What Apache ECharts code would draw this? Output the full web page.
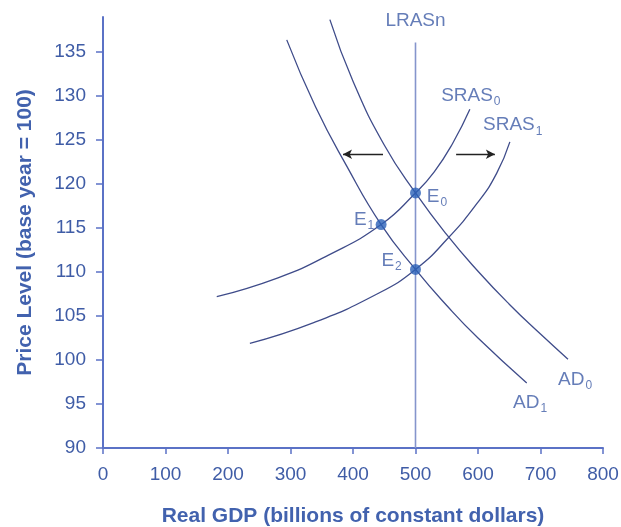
<!DOCTYPE html>
<html><head><meta charset="utf-8">
<script src="https://cdn.jsdelivr.net/npm/echarts@6/dist/echarts.min.js"></script>
<style>html,body{margin:0;padding:0;background:#fff}#c{width:621px;height:527px}</style>
</head><body><div id="c"></div>
<script>
// ---- data ----
const xTickValues = [0, 100, 200, 300, 400, 500, 600, 700, 800];
const yTickValues = [90, 95, 100, 105, 110, 115, 120, 125, 130, 135];
const AD0 = [[363,138.7],[400,131.7],[450,124.45],[500,119.0],[550,114.25],[600,110.1],[650,106.35],[700,102.95],[744,100.1]];
const AD1 = [[294,136.4],[340,128.8],[390,122.05],[445,115.4],[500,110.3],[550,106.2],[600,102.5],[678,97.4]];
const SRAS0 = [[182,107.2],[280,109.35],[360,111.9],[445,115.4],[500,119.0],[530,121.4],[560,124.7],[587,128.5]];
const SRAS1 = [[235,101.9],[335,104.2],[440,107.56],[500,110.3],[550,113.7],[600,117.95],[630,121.25],[651,124.8]];
const LRAS = [[500,90],[500,136.1]];
const equilibria = [[500,119],[445,115.4],[500,110.3]];
const shiftLeft = [[448,123.4],[384,123.4]];
const shiftRight = [[565,123.4],[627,123.4]];
const curveLabels = [
  {name:'LRASn', sub:'', at:[500,138.6], align:'center'},
  {name:'SRAS', sub:'0', at:[541,130.1], align:'left'},
  {name:'SRAS', sub:'1', at:[608,126.7], align:'left'},
  {name:'E', sub:'0', at:[518,118.6], align:'left'},
  {name:'E', sub:'1', at:[434,116.0], align:'right'},
  {name:'E', sub:'2', at:[478,111.3], align:'right'},
  {name:'AD', sub:'0', at:[728,97.8], align:'left'},
  {name:'AD', sub:'1', at:[656,95.1], align:'left'}
];

// ---- chart ----
const axisBlue = '#5b72c6', textBlue = '#3f5ca6', curve = '#3f4c8a';
const FONT = 'Liberation Sans, Arial, sans-serif';
const chart = echarts.init(document.getElementById('c'), null, {renderer:'canvas'});
const curveSeries = (d) => ({type:'line', data:d, smooth:0.5, showSymbol:false, symbol:'none',
  lineStyle:{color:curve, width:1.3}, silent:true, z:3});

chart.setOption({
  animation:false,
  backgroundColor:'#fff',
  grid:{left:103, right:18, top:17, bottom:79, containLabel:false, outerBoundsMode:'none'},
  xAxis:{type:'value', min:0, max:800, interval:100,
    axisLine:{lineStyle:{color:axisBlue, width:2}},
    axisTick:{show:true, length:6, lineStyle:{color:axisBlue, width:1.5}, customValues:xTickValues},
    axisLabel:{color:textBlue, fontSize:19, fontFamily:FONT, margin:17, customValues:xTickValues},
    splitLine:{show:false},
    name:'Real GDP (billions of constant dollars)', nameLocation:'middle', nameGap:58,
    nameTextStyle:{color:'#4262ae', fontSize:21, fontWeight:'bold', fontFamily:FONT}
  },
  yAxis:{type:'value', min:90, max:139, interval:5,
    axisLine:{show:true, lineStyle:{color:axisBlue, width:2}},
    axisTick:{show:true, length:7, lineStyle:{color:axisBlue, width:1.5}, customValues:yTickValues},
    axisLabel:{color:textBlue, fontSize:19, fontFamily:FONT, margin:17, customValues:yTickValues},
    splitLine:{show:false},
    name:'Price Level (base year = 100)', nameLocation:'middle', nameGap:67,
    nameTextStyle:{color:'#4262ae', fontSize:21, fontWeight:'bold', fontFamily:FONT}
  },
  series:[
    {type:'line', data:LRAS, showSymbol:false, symbol:'none', lineStyle:{color:'#8595cc', width:1.6}, z:2, silent:true},
    curveSeries(AD0), curveSeries(AD1), curveSeries(SRAS0), curveSeries(SRAS1),
    {type:'scatter', data:equilibria, symbolSize:11, itemStyle:{color:'#2c62b8'}, z:5, silent:true},
    {type:'line', data:[], silent:true,
      markLine:{silent:true, symbol:['none','arrow'], symbolSize:[7,9], label:{show:false},
        lineStyle:{color:'#222', width:1.3, type:'solid'},
        data:[[{coord:shiftLeft[0]},{coord:shiftLeft[1]}],[{coord:shiftRight[0]},{coord:shiftRight[1]}]]}},
    {type:'scatter', clip:false, symbolSize:0, silent:true, z:6,
      data:curveLabels.map(l => ({value:l.at, label:{show:true, position:[0,0], align:l.align, verticalAlign:'middle',
        formatter: l.sub ? '{m|'+l.name+'}{s|'+l.sub+'}' : '{m|'+l.name+'}'}})),
      label:{show:true, color:textBlue, fontFamily:FONT,
        rich:{m:{fontSize:19, color:textBlue, fontFamily:FONT, lineHeight:22},
              s:{fontSize:12, color:textBlue, fontFamily:FONT, padding:[12,0,0,1], lineHeight:22}}}}
  ]
});
</script></body></html>
